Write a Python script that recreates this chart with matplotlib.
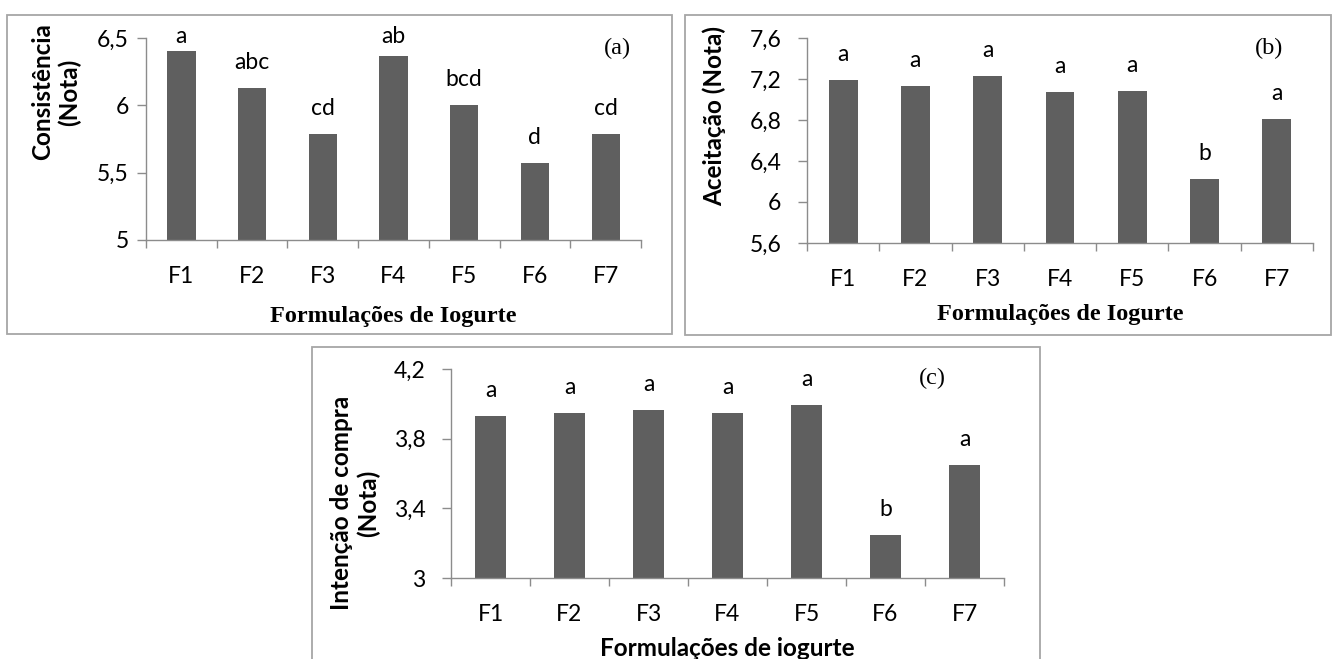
import numpy as np
import matplotlib
matplotlib.use('Agg')
import matplotlib.pyplot as plt
import matplotlib.ticker as mticker
from matplotlib.patches import Rectangle
from matplotlib.transforms import blended_transform_factory

# --- Data ---
formulations = ['F1', 'F2', 'F3', 'F4', 'F5', 'F6', 'F7']

consistencia = [6.40, 6.13, 5.79, 6.37, 6.00, 5.57, 5.79]
consistencia_letters = ['a', 'abc', 'cd', 'ab', 'bcd', 'd', 'cd']

aceitacao = [7.19, 7.13, 7.23, 7.07, 7.08, 6.22, 6.81]
aceitacao_letters = ['a', 'a', 'a', 'a', 'a', 'b', 'a']

intencao = [3.93, 3.945, 3.966, 3.945, 3.995, 3.247, 3.647]
intencao_letters = ['a', 'a', 'a', 'a', 'a', 'b', 'a']

W, H = 1334, 659
SANS = ['Lato', 'DejaVu Sans']
SERIF = ['Liberation Serif', 'DejaVu Serif']
BAR = '#5f5f5f'
AXC = '#8c8c8c'
FRAME = '#a6a6a6'

plt.rcParams['font.family'] = SANS

fig = plt.figure(figsize=(W / 100, H / 100), dpi=100)


def px_axes(x0, y0, x1, y1):
    # pixel box (top-left origin) -> figure fraction axes
    return fig.add_axes([x0 / W, 1 - y1 / H, (x1 - x0) / W, (y1 - y0) / H])


def frame(x0, y0, x1, y1):
    fig.patches.append(Rectangle((x0 / W, 1 - y1 / H), (x1 - x0) / W, (y1 - y0) / H,
                                 transform=fig.transFigure, fill=False,
                                 edgecolor=FRAME, linewidth=1.3))


def comma(x, pos):
    s = f'{x:.1f}'.rstrip('0').rstrip('.')
    return s.replace('.', ',')


def draw_panel(ax, values, letters, yticks, h_px, ylabel, ylab_xy, xlabel, xlab_y,
               xlab_font, tag, tag_xy, ypad):
    x = np.arange(len(formulations))
    ax.bar(x, values, width=0.4, color=BAR, zorder=2)
    ax.set_xlim(-0.5, len(formulations) - 0.5)
    ax.set_ylim(yticks[0], yticks[-1])
    ax.set_yticks(yticks)
    ax.yaxis.set_major_formatter(mticker.FuncFormatter(comma))
    ax.set_xticks(x)
    ax.set_xticklabels(formulations)
    ax.set_xticks(np.arange(len(formulations) + 1) - 0.5, minor=True)
    ax.tick_params(axis='x', which='major', length=0, pad=19, labelsize=16.5, colors='black')
    ax.tick_params(axis='x', which='minor', length=5.8, width=1, color=AXC, direction='out')
    ax.tick_params(axis='y', length=6.5, width=1, color=AXC, pad=ypad, labelsize=16.5)
    for s in ['top', 'right']:
        ax.spines[s].set_visible(False)
    for s in ['left', 'bottom']:
        ax.spines[s].set_color(AXC)
        ax.spines[s].set_linewidth(1)
    ax.patch.set_alpha(0)

    # significance letters above the bars
    tr = blended_transform_factory(ax.transData, ax.transAxes)
    lo, hi = yticks[0], yticks[-1]
    for i, (v, lt) in enumerate(zip(values, letters)):
        fy = (v - lo) / (hi - lo)
        ty = min(fy + 19 / h_px, 1 - 5 / h_px)
        ax.text(i, ty, lt, transform=tr, ha='center', va='baseline', fontsize=16.5)

    ax.text(ylab_xy[0], ylab_xy[1], ylabel, transform=ax.transAxes, rotation=90,
            ha='center', va='center', multialignment='center', fontsize=17.5,
            fontweight='bold', linespacing=1.2)
    ax.text(0.5, xlab_y, xlabel, transform=ax.transAxes, ha='center', va='center',
            **xlab_font)
    ax.text(tag_xy[0], tag_xy[1], tag, transform=ax.transAxes, ha='center', va='center',
            family=SERIF, fontsize=17.5)


# panel frames
frame(7, 15, 672, 334)
frame(685, 15, 1331, 335)
frame(312, 347, 1040, 670)

serif_bold = dict(family=SERIF, fontsize=17.5, fontweight='bold')
sans_bold = dict(fontsize=17.5, fontweight='bold')

ax_a = px_axes(146, 38, 641, 240)
draw_panel(ax_a, consistencia, consistencia_letters, [5, 5.5, 6, 6.5], 202,
           'Consistência\n(Nota)', (-0.182, 0.733), 'Formulações de Iogurte', -0.381,
           serif_bold, '(a)', (0.952, 0.95), ypad=6)

ax_b = px_axes(807, 38, 1313, 243)
draw_panel(ax_b, aceitacao, aceitacao_letters, [5.6, 6.0, 6.4, 6.8, 7.2, 7.6], 205,
           'Aceitação (Nota)', (-0.184, 0.62), 'Formulações de Iogurte', -0.351,
           serif_bold, '(b)', (0.913, 0.951), ypad=12)

ax_c = px_axes(451, 369, 1004, 578)
draw_panel(ax_c, intencao, intencao_letters, [3.0, 3.4, 3.8, 4.2], 209,
           'Intenção de compra\n(Nota)', (-0.174, 0.359), 'Formulações de iogurte', -0.335,
           sans_bold, '(c)', (0.870, 0.957), ypad=12)

fig.savefig('out.png', dpi=100)
